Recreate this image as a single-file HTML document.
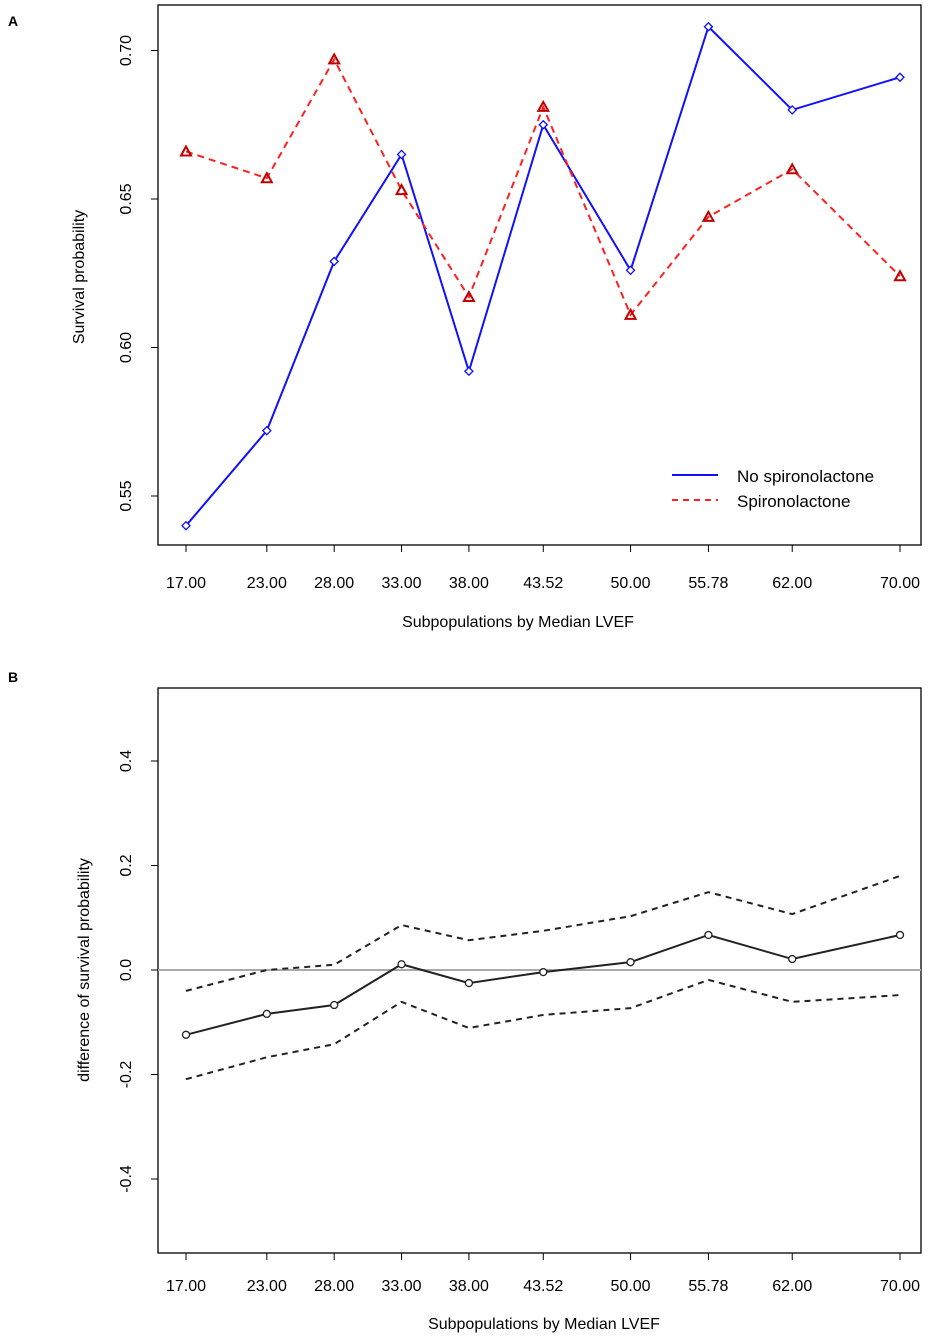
<!DOCTYPE html>
<html><head><meta charset="utf-8"><style>
html,body{margin:0;padding:0;background:#fff;}
svg{display:block;font-family:"Liberation Sans",Arial,sans-serif;}
</style></head><body>
<svg id="c" width="939" height="1339" viewBox="0 0 939 1339">
<text x="8" y="26" font-size="14" font-weight="bold">A</text>
<text x="8" y="682" font-size="14" font-weight="bold">B</text>
<rect x="158" y="5" width="763" height="540" fill="none" stroke="#000" stroke-width="1.3"/>
<rect x="158" y="688" width="763" height="565" fill="none" stroke="#000" stroke-width="1.3"/>
<text transform="translate(84,277) rotate(-90)" text-anchor="middle" font-size="16">Survival probability</text>
<text x="518" y="627" text-anchor="middle" font-size="16">Subpopulations by Median LVEF</text>
<text transform="translate(89,970) rotate(-90)" text-anchor="middle" font-size="16">difference of survival probability</text>
<text x="544" y="1329" text-anchor="middle" font-size="16">Subpopulations by Median LVEF</text>
<g>
<line x1="672" y1="475" x2="718" y2="475" stroke="#1010ff" stroke-width="2"/>
<text x="737" y="482" font-size="17">No spironolactone</text>
<line x1="672" y1="500" x2="718" y2="500" stroke="#ff2020" stroke-width="2" stroke-dasharray="6,5"/>
<text x="737" y="507" font-size="17">Spironolactone</text>
</g>
</svg>
<script>
const categories=[17,23,28,33,38,43.52,50,55.78,62,70];
const catLabels=["17.00","23.00","28.00","33.00","38.00","43.52","50.00","55.78","62.00","70.00"];
const noSpiro=[0.540,0.572,0.629,0.665,0.592,0.675,0.626,0.708,0.680,0.691];
const spiro=[0.666,0.657,0.697,0.653,0.617,0.681,0.611,0.644,0.660,0.624];
const diff=[-0.124,-0.084,-0.067,0.011,-0.025,-0.004,0.015,0.067,0.021,0.067];
const diffUpper=[-0.040,0.000,0.010,0.086,0.057,0.075,0.103,0.149,0.107,0.180];
const diffLower=[-0.209,-0.167,-0.142,-0.061,-0.111,-0.086,-0.073,-0.019,-0.061,-0.048];
const yTicksA=[0.55,0.60,0.65,0.70];
const yTicksB=[-0.4,-0.2,0.0,0.2,0.4];
const NS="http://www.w3.org/2000/svg";
const svg=document.getElementById('c');
function X(v){return 186+(v-17)*(714/53);}
function YA(v){return 496-(v-0.55)*2970;}
function YB(v){return 970-v*522.5;}
function mk(tag,attrs,parent){const e=document.createElementNS(NS,tag);for(const k in attrs)e.setAttribute(k,attrs[k]);(parent||svg).appendChild(e);return e;}
function xAxis(y0,ty){
  categories.forEach((c,i)=>{
    const t=mk('line',{x1:X(c),x2:X(c),y1:y0,y2:y0+7,stroke:'#000'});
    
    
    const l=mk('text',{x:X(c),y:ty,'text-anchor':'middle','font-size':16});
    l.textContent=catLabels[i];
    
    
  });
}
function yAxis(ticks,Y,fmt){
  ticks.forEach(v=>{
    const t=mk('line',{x1:151,x2:158,y1:Y(v),y2:Y(v),stroke:'#000'});
    
    
    const l=mk('text',{transform:`translate(131,${Y(v)}) rotate(-90)`,'text-anchor':'middle','font-size':16});
    l.textContent=fmt(v);
    
    
  });
}
xAxis(545,588);xAxis(1253,1291);
yAxis(yTicksA,YA,v=>v.toFixed(2));
yAxis(yTicksB,YB,v=>v.toFixed(1));
function line(vals,Y,color,dash,w,name){
  const p=mk('polyline',{points:vals.map((v,i)=>X(categories[i])+','+Y(v)).join(' '),fill:'none',stroke:color,'stroke-width':w,'stroke-dasharray':dash||'none'});
  
  
}
// zero line B
const z=mk('line',{x1:158,x2:921,y1:YB(0),y2:YB(0),stroke:'#aaa','stroke-width':2});


line(noSpiro,YA,'#1010ff',null,2,'series-no-spironolactone');
line(spiro,YA,'#ff2020','7,5',2,'series-spironolactone');
noSpiro.forEach((v,i)=>{
  const x=X(categories[i]),y=YA(v);
  const m=mk('polygon',{points:`${x},${y-4} ${x+4},${y} ${x},${y+4} ${x-4},${y}`,fill:'#fff',stroke:'#1010ff','stroke-width':1.3});
  
  
});
spiro.forEach((v,i)=>{
  const x=X(categories[i]),y=YA(v);
  const m=mk('polygon',{points:`${x},${y-5} ${x+5},${y+4} ${x-5},${y+4}`,fill:'none',stroke:'#c00000','stroke-width':2});
  
  
});
line(diffUpper,YB,'#222','6,5',2,'upper-ci');
line(diffLower,YB,'#222','6,5',2,'lower-ci');
line(diff,YB,'#222',null,2,'difference-line');
diff.forEach((v,i)=>{
  const m=mk('circle',{cx:X(categories[i]),cy:YB(v),r:3.5,fill:'#fff',stroke:'#222','stroke-width':1.3});
  
  
});
</script>
</body></html>
